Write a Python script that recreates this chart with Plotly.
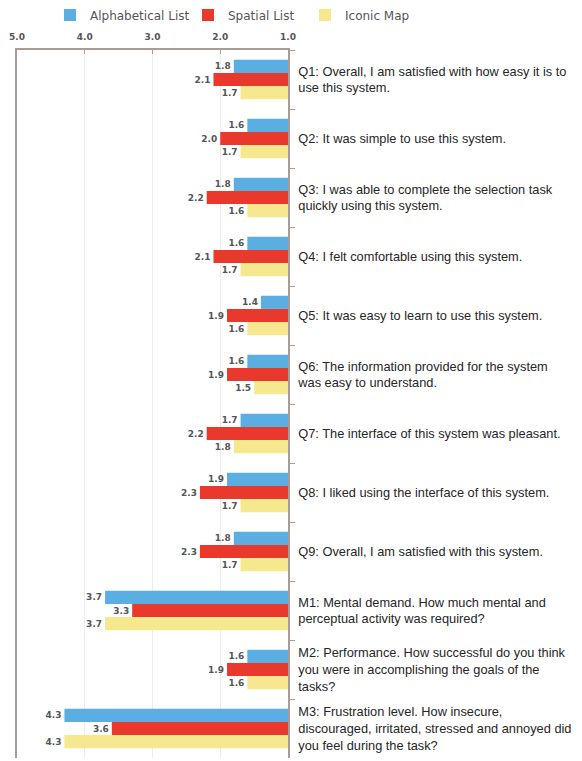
import plotly.graph_objects as go

categories = [
    "Q1: Overall, I am satisfied with how easy it is to<br>use this system.",
    "Q2: It was simple to use this system.",
    "Q3: I was able to complete the selection task<br>quickly using this system.",
    "Q4: I felt comfortable using this system.",
    "Q5: It was easy to learn to use this system.",
    "Q6: The information provided for the system<br>was easy to understand.",
    "Q7: The interface of this system was pleasant.",
    "Q8: I liked using the interface of this system.",
    "Q9: Overall, I am satisfied with this system.",
    "M1: Mental demand. How much mental and<br>perceptual activity was required?",
    "M2: Performance. How successful do you think<br>you were in accomplishing the goals of the<br>tasks?",
    "M3: Frustration level. How insecure,<br>discouraged, irritated, stressed and annoyed did<br>you feel during the task?",
]
alphabetical = [1.8, 1.6, 1.8, 1.6, 1.4, 1.6, 1.7, 1.9, 1.8, 3.7, 1.6, 4.3]
spatial = [2.1, 2.0, 2.2, 2.1, 1.9, 1.9, 2.2, 2.3, 2.3, 3.3, 1.9, 3.6]
iconic = [1.7, 1.7, 1.6, 1.7, 1.6, 1.5, 1.8, 1.7, 1.7, 3.7, 1.6, 4.3]
series_names = ["Alphabetical List", "Spatial List", "Iconic Map"]
series_colors = ["#5AAEE2", "#E8392C", "#F6E88E"]
legend_ids = ["legend", "legend2", "legend3"]
legend_x = [42, 180, 297]  # pixel positions of the legend boxes
tick_vals = [5.0, 4.0, 3.0, 2.0, 1.0]
baseline = 1.0

# page body has an 8px margin, so the figure is sized to fit the window
W, H = 574, 753

fig = go.Figure()
for name, vals, col, lid in zip(series_names, [alphabetical, spatial, iconic], series_colors, legend_ids):
    fig.add_trace(go.Bar(
        y=categories,
        x=[v - baseline for v in vals],
        base=baseline,
        orientation="h",
        name=name,
        legend=lid,
        marker=dict(color=col, line=dict(width=0)),
        text=[f"{v:.1f}" for v in vals],
        textposition="outside",
        textfont=dict(family="DejaVu Sans", size=9, color="#555555", weight="bold"),
        cliponaxis=False,
    ))

legend_common = dict(
    orientation="h",
    xref="container", yref="container",
    yanchor="middle", xanchor="left",
    font=dict(family="DejaVu Sans", size=12, color="#555555"),
    itemwidth=30,
    bgcolor="rgba(0,0,0,0)",
)
legends = {}
for lid, lx in zip(legend_ids, legend_x):
    legends[lid] = dict(legend_common, x=lx / W, y=1 - 7 / H)

fig.update_layout(
    width=W, height=H,
    barmode="group",
    bargap=0.33,
    bargroupgap=0,
    plot_bgcolor="white",
    paper_bgcolor="white",
    margin=dict(l=9, r=294, t=42, b=3, autoexpand=False),
    showlegend=True,
    **legends,
    xaxis=dict(
        range=[5.0, 1.0],
        side="top",
        tickvals=tick_vals,
        ticktext=[f"{t:.1f}" for t in tick_vals],
        tickfont=dict(family="DejaVu Sans", size=9, color="#555555", weight="bold"),
        ticklabelstandoff=5,
        showgrid=True,
        gridcolor="#ececec",
        gridwidth=1,
        showline=True,
        linecolor="#a89c98",
        linewidth=1.5,
        ticks="inside",
        ticklen=4,
        tickcolor="#a89c98",
        zeroline=False,
        automargin=False,
        fixedrange=True,
    ),
    yaxis=dict(
        type="category",
        autorange="reversed",
        side="right",
        showline=True,
        mirror=True,
        linecolor="#a89c98",
        linewidth=1.5,
        ticks="outside",
        tickson="boundaries",
        ticklen=5,
        tickcolor="#a89c98",
        showgrid=False,
        automargin=False,
        ticklabelstandoff=6,
        tickfont=dict(family="Liberation Sans, Arial", size=12.8, color="#262626"),
    ),
)

fig.write_html("out.html")
